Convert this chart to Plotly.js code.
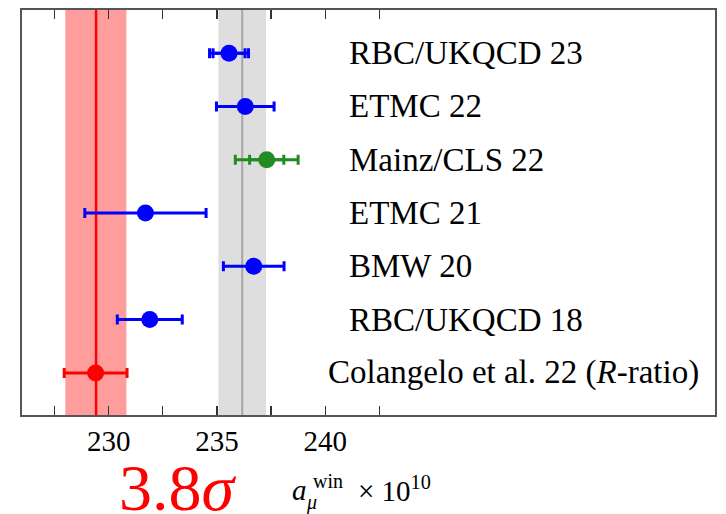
<!DOCTYPE html>
<html>
<head>
<meta charset="utf-8">
<script src="https://cdn.plot.ly/plotly-3.0.1.min.js"></script>
<style>body{margin:0;padding:0;}</style>
</head>
<body>
<div id="plot"></div>
<script>
// Data (top to bottom)
const labels = ["RBC/UKQCD 23", "ETMC 22", "Mainz/CLS 22", "ETMC 21", "BMW 20", "RBC/UKQCD 18", "Colangelo et al. 22 (<i>R</i>-ratio)"];
const values = [235.56, 236.31, 237.30, 231.70, 236.70, 231.90, 229.40];
const totalErr = [0.90, 1.33, 1.45, 2.80, 1.40, 1.50, 1.45];
const statErr = [0.74, null, 0.79, null, null, null, null];
const colors = ["#0000ff", "#0000ff", "#228b22", "#0000ff", "#0000ff", "#0000ff", "#ff0000"];
const labelX = [241.0, 241.0, 241.0, 241.0, 241.0, 241.0, 240.05];

const latticeAvg = 236.17, latticeLo = 235.07, latticeHi = 237.27;
const ratioVal = 229.42, ratioLo = 228.0, ratioHi = 230.82;

const tickVals = [227.5, 230, 232.5, 235, 237.5, 240, 242.5];
const tickText = ["", "230", "", "235", "", "240", ""];

const n = labels.length;
const yIdx = labels.map((_, i) => n - 1 - i);

const traces = [];
for (let i = 0; i < n; i++) {
  if (statErr[i] !== null) {
    traces.push({
      type: "scatter", mode: "markers", x: [values[i]], y: [yIdx[i]],
      marker: {size: 1, color: "rgba(0,0,0,0)"},
      error_x: {type: "data", array: [statErr[i]], color: colors[i], thickness: 3, width: 5},
      hoverinfo: "skip", showlegend: false
    });
  }
}
for (let i = 0; i < n; i++) {
  traces.push({
    type: "scatter", mode: "markers", x: [values[i]], y: [yIdx[i]],
    marker: {size: 17, color: colors[i]},
    error_x: {type: "data", array: [totalErr[i]], color: colors[i], thickness: 3, width: 5},
    showlegend: false
  });
}

const W = 726, H = 514, mL = 22, mR = 11, mT = 10, mB = 99;
const pw = W - mL - mR, ph = H - mT - mB;
const px = v => (v - mL) / pw;
const py = v => (H - mB - v) / ph;

const fam = "Liberation Serif";
const annotations = labels.map((t, i) => ({
  x: labelX[i], y: yIdx[i], xref: "x", yref: "y", text: t, showarrow: false,
  xanchor: "left", yanchor: "middle", font: {family: fam, size: 33, color: "#000"}
}));
annotations.push(
  {x: px(178), y: py(487), xref: "paper", yref: "paper", text: "3.8<i>σ</i>", showarrow: false,
   xanchor: "center", yanchor: "middle", font: {family: fam, size: 66, color: "#ff0000"}},
  {x: px(299), y: py(490), xref: "paper", yref: "paper", text: "<i>a</i>", showarrow: false,
   xanchor: "center", yanchor: "middle", font: {family: fam, size: 29, color: "#000"}},
  {x: px(328), y: py(481), xref: "paper", yref: "paper", text: "win", showarrow: false,
   xanchor: "center", yanchor: "middle", font: {family: fam, size: 20, color: "#000"}},
  {x: px(311), y: py(502), xref: "paper", yref: "paper", text: "<i>μ</i>", showarrow: false,
   xanchor: "center", yanchor: "middle", font: {family: fam, size: 20, color: "#000"}},
  {x: px(356), y: py(489), xref: "paper", yref: "paper", text: "× 10<sup>10</sup>", showarrow: false,
   xanchor: "left", yanchor: "middle", font: {family: fam, size: 29, color: "#000"}}
);

const layout = {
  width: W, height: H,
  margin: {l: mL, r: mR, t: mT, b: mB, pad: 0},
  paper_bgcolor: "#fff", plot_bgcolor: "#fff",
  showlegend: false,
  xaxis: {
    range: [226, 258], showgrid: false, zeroline: false,
    tickmode: "array", tickvals: tickVals, ticktext: tickText,
    ticks: "inside", ticklen: 9, tickwidth: 1.3, tickcolor: "#333",
    showline: true, linecolor: "#555", linewidth: 1.6, mirror: "ticks",
    tickfont: {family: fam, size: 29, color: "#000"}
  },
  yaxis: {
    range: [-0.79, 6.81], showgrid: false, zeroline: false, showticklabels: false,
    ticks: "", showline: true, linecolor: "#555", linewidth: 1.6, mirror: true
  },
  shapes: [
    {type: "rect", xref: "x", yref: "paper", x0: ratioLo, x1: ratioHi, y0: 0, y1: 1,
     fillcolor: "#ff9c9c", line: {width: 0}, layer: "below"},
    {type: "rect", xref: "x", yref: "paper", x0: latticeLo, x1: latticeHi, y0: 0, y1: 1,
     fillcolor: "#dedede", line: {width: 0}, layer: "below"},
    {type: "line", xref: "x", yref: "paper", x0: latticeAvg, x1: latticeAvg, y0: 0, y1: 1,
     line: {color: "#a6a6a6", width: 2}, layer: "below"},
    {type: "line", xref: "x", yref: "paper", x0: ratioVal, x1: ratioVal, y0: 0, y1: 1,
     line: {color: "#ff0000", width: 2.5}, layer: "below"}
  ],
  annotations: annotations
};

Plotly.newPlot("plot", traces, layout, {displayModeBar: false, staticPlot: true});
</script>
</body>
</html>
